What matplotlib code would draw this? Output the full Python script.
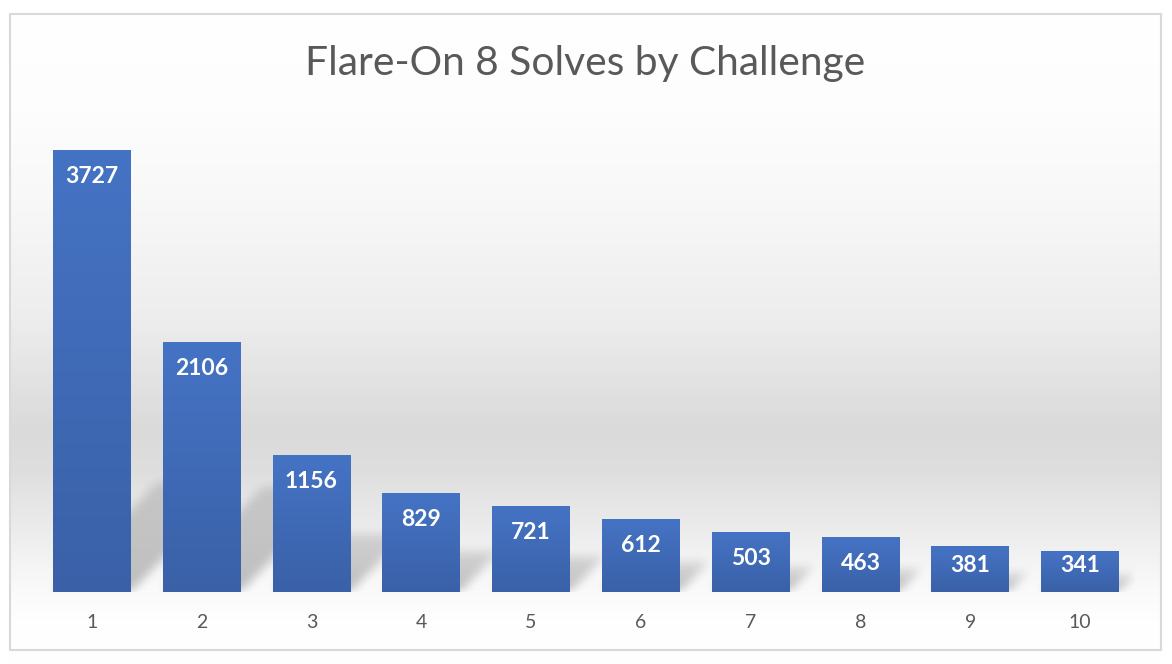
import numpy as np
import matplotlib
matplotlib.use("Agg")
import matplotlib.pyplot as plt
from matplotlib.patches import Rectangle

# ---- data ----
challenges = ["1", "2", "3", "4", "5", "6", "7", "8", "9", "10"]
solves = [3727, 2106, 1156, 829, 721, 612, 503, 463, 381, 341]
title = "Flare-On 8 Solves by Challenge"

W, H = 1172, 664
FONT = "Lato"
plt.rcParams["font.family"] = [FONT, "DejaVu Sans"]

fig = plt.figure(figsize=(W / 100, H / 100), dpi=100)
fig.patch.set_facecolor("white")

# ---- background gradient + border ----
bg = fig.add_axes([0, 0, 1, 1], zorder=0)
bg.set_xlim(0, W)
bg.set_ylim(H, 0)
bg.axis("off")
ys = np.arange(H)
cp_y = [0, 14, 110, 200, 320, 430, 470, 530, 590, 620, 664]
cp_v = [255, 255, 253, 248, 237, 218, 222, 236, 250, 254, 255]
prof = np.interp(ys, cp_y, cp_v) / 255.0
img = np.repeat(prof[:, None], 2, axis=1)
img = np.dstack([img, img, img])
bg.imshow(img, extent=(10, 1161, H - 1, 0), aspect="auto", interpolation="bilinear", zorder=0)
bg.set_xlim(0, W)
bg.set_ylim(H, 0)
bg.add_patch(Rectangle((10, 14), 1151, 636, fill=False, edgecolor="#d9d9d9", linewidth=1.5, zorder=2))

# ---- main axes ----
L, R, B, T = 37, 1135, 592, 118
ax = fig.add_axes([L / W, (H - B) / H, (R - L) / W, (B - T) / H], zorder=1)
ax.patch.set_alpha(0)
x = np.arange(len(challenges))
ymax = 4000
ax.set_xlim(-0.5, len(challenges) - 0.5)
ax.set_ylim(0, ymax)
bw = 0.71

# shadows (decorative, computed in pixel space from the bars)
px_w, px_h = R - L, B - T
sx = px_w / len(challenges)
sy = px_h / ymax
gx = np.arange(px_w)[None, :] + 0.5
gy = np.arange(px_h)[:, None] + 0.5
mask = np.zeros((px_h, px_w))
for xi, v in zip(x, solves):
    x0 = (xi - bw / 2 + 0.5) * sx
    x1 = (xi + bw / 2 + 0.5) * sx
    hpx = v * sy
    Ls = min(0.42 * hpx, 110)
    shifted = gx - gy * 0.95
    inside = (shifted >= x0) & (shifted <= x1) & (gy <= Ls)
    fade = np.clip(1 - gy / (Ls + 1), 0, 1) * 0.5 + 0.5
    mask = np.maximum(mask, inside * fade)

def blur(a, r):
    for axis in (0, 1):
        k = np.ones(2 * r + 1) / (2 * r + 1)
        a = np.apply_along_axis(lambda m: np.convolve(m, k, mode="same"), axis, a)
    return a

mask = blur(blur(mask, 5), 5)
shadow = np.zeros((px_h, px_w, 4))
shadow[..., 3] = mask * 0.24
ax.imshow(shadow[::-1], extent=(-0.5, len(challenges) - 0.5, 0, ymax), aspect="auto",
          origin="upper", zorder=1, interpolation="bilinear")

# bars with vertical gradient
top_c = np.array([0x45, 0x73, 0xC4]) / 255
bot_c = np.array([0x3A, 0x61, 0xA8]) / 255
grad = np.linspace(0, 1, 100)[:, None]
gimg = top_c[None, None, :] * (1 - grad[..., None]) + bot_c[None, None, :] * grad[..., None]
bars = ax.bar(x, solves, width=bw, color="#4472C4", zorder=2)
for b in bars:
    b.set_facecolor("none")
    bx, by = b.get_x(), b.get_y()
    ax.imshow(gimg, extent=(bx, bx + b.get_width(), by, by + b.get_height()),
              aspect="auto", zorder=2, interpolation="bilinear")
ax.set_xlim(-0.5, len(challenges) - 0.5)
ax.set_ylim(0, ymax)

# value labels: inside end, but never lower than a fixed distance above the base
off = 26 / sy  # 26 px expressed in data units
for xi, v in zip(x, solves):
    ypos = max(v - off, off)
    ax.text(xi, ypos, str(v), ha="center", va="center", color="white",
            fontsize=16.5, fontweight="bold", zorder=3)

ax.set_xticks(x)
ax.set_xticklabels(challenges, fontsize=14, color="#595959")
ax.tick_params(axis="x", length=0, pad=16)
ax.set_yticks([])
for s in ax.spines.values():
    s.set_visible(False)

fig.text(585 / W, 1 - 75 / H, title, ha="center", va="baseline",
         fontsize=29.3, color="#595959")

fig.savefig("out.png", dpi=100)
